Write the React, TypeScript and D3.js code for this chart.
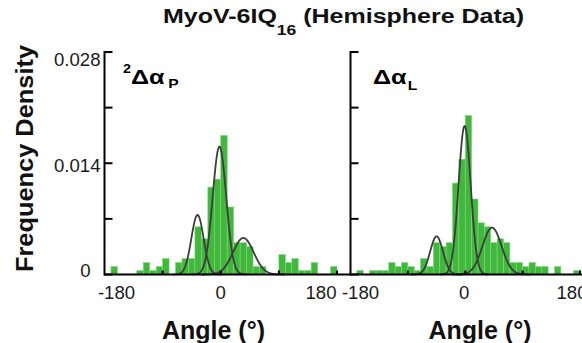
import React from 'react';
import * as d3 from 'd3';

// Histogram bins: left edges (degrees), bin width 10
const binStarts = [
  -180, -170, -160, -150, -140, -130, -120, -110, -100, -90, -80, -70,
  -60, -50, -40, -30, -20, -10, 0, 10, 20, 30, 40, 50,
  60, 70, 80, 90, 100, 110, 120, 130, 140, 150, 160, 170,
];
const binWidth = 10;

// Frequency density, panel 1 (²Δα_P)
const densityP = [
  0, 0.001, 0, 0, 0, 0.0005, 0.0015, 0.0005, 0.001, 0.002, 0, 0.0015,
  0.002, 0.002, 0.006, 0.0045, 0.011, 0.012, 0.0175, 0.0085, 0.004, 0.004, 0.0035, 0.001,
  0.001, 0, 0, 0.0025, 0.0015, 0.002, 0.0005, 0.0005, 0.0015, 0, 0, 0.001,
];
// Frequency density, panel 2 (Δα_L)
const densityL = [
  0, 0.0005, 0, 0.0005, 0.0005, 0.0005, 0.0015, 0.001, 0.0015, 0.001, 0.0005, 0.002,
  0.001, 0.004, 0.0035, 0.004, 0.0115, 0.0145, 0.02, 0.0095, 0.0065, 0.006, 0.004, 0.0045,
  0.004, 0.0015, 0.0015, 0.001, 0.0015, 0.001, 0.001, 0, 0.001, 0, 0, 0.0005,
];

// Gaussian fit components (mean, sd, peak density)
const fitMeansP = [-36, -2, 35];
const fitSdsP = [9.5, 10.5, 16];
const fitPeaksP = [0.0075, 0.0161, 0.0046];
const fitMeansL = [-45, -1, 42];
const fitSdsL = [10, 9.5, 15];
const fitPeaksL = [0.0048, 0.0187, 0.0059];

const xTicks = [-180, -90, 0, 90, 180];
const xTickLabels = [-180, 0, 180];
const yTicks = [0, 0.007, 0.014, 0.021, 0.028];
const yTickLabels = ['0', '0.014', '0.028'];

const FONT = 'Liberation Sans, Arial, Helvetica, sans-serif';
const BAR_FILL = '#3fb83c';
const BAR_STROKE = '#86d47f';
const CURVE = '#3d3d3d';

const yScale = d3.scaleLinear().domain([0, 0.028]).range([274.5, 52]);

function Panel({ xScale, densities, means, sds, peaks, axisEnd, labelOffsets, showYLabels }) {
  const x0 = xScale.range()[0];
  const base = yScale(0);
  const line = d3
    .line<[number, number]>()
    .x((d) => xScale(d[0]))
    .y((d) => yScale(d[1]))
    .curve(d3.curveBasis);
  const curves = means.map((m, i) => {
    const s = sds[i];
    const p = peaks[i];
    const pts: [number, number][] = d3
      .range(Math.max(-180, m - 4 * s), Math.min(180, m + 4 * s) + 0.01, 0.5)
      .map((a) => [a, p * Math.exp(-0.5 * ((a - m) / s) ** 2)]);
    return line(pts);
  });
  return (
    <g>
      {binStarts.map((b, i) =>
        densities[i] > 0 ? (
          <rect
            key={i}
            x={xScale(b)}
            width={xScale(b + binWidth) - xScale(b)}
            y={yScale(densities[i])}
            height={base - yScale(densities[i])}
            fill={BAR_FILL}
            stroke={BAR_STROKE}
            strokeWidth={0.6}
          />
        ) : null
      )}
      {curves.map((d, i) => (
        <path key={i} d={d || ''} fill="none" stroke={CURVE} strokeWidth={1.8} />
      ))}
      {/* y axis */}
      <line x1={x0} x2={x0} y1={yScale(0.028) - 1} y2={base + 1} stroke="#000" strokeWidth={2} />
      {yTicks.map((t) => (
        <line key={t} x1={x0} x2={x0 + 8} y1={yScale(t)} y2={yScale(t)} stroke="#000" strokeWidth={2} />
      ))}
      {/* x axis */}
      <line x1={x0} x2={axisEnd} y1={base} y2={base} stroke="#000" strokeWidth={2} />
      {xTicks.slice(1).map((t) => (
        <line key={t} x1={xScale(t)} x2={xScale(t)} y1={base} y2={base - 4} stroke="#000" strokeWidth={2} />
      ))}
      {xTickLabels.map((t, i) => (
        <text
          key={t}
          x={xScale(t) + labelOffsets[i]}
          y={299}
          fontSize={18.6}
          fontFamily={FONT}
          textAnchor="middle"
          fill="#1a1a1a"
        >
          {t}
        </text>
      ))}
      {showYLabels &&
        yTickLabels.map((t, i) => {
          const v = +t;
          const dy = i === 0 ? 2 : i === 1 ? 8.5 : 14;
          return (
            <text
              key={t}
              x={v === 0 ? x0 - 14 : x0 - 4}
              y={yScale(v) + dy}
              fontSize={18.6}
              fontFamily={FONT}
              textAnchor="end"
              fill="#1a1a1a"
            >
              {t}
            </text>
          );
        })}
    </g>
  );
}

export default function App() {
  const xP = d3.scaleLinear().domain([-180, 180]).range([104.5, 337]);
  const xL = d3.scaleLinear().domain([-180, 180]).range([350.5, 580]);
  return (
    <svg
      width={582}
      height={343}
      style={{ position: 'absolute', left: 0, top: 0, background: '#fff' }}
      fontFamily={FONT}
    >
      <rect width={582} height={343} fill="#fff" />
      <Panel
        xScale={xP}
        densities={densityP}
        means={fitMeansP}
        sds={fitSdsP}
        peaks={fitPeaksP}
        axisEnd={351}
        labelOffsets={[12, 0, -16]}
        showYLabels={true}
      />
      <Panel
        xScale={xL}
        densities={densityL}
        means={fitMeansL}
        sds={fitSdsL}
        peaks={fitPeaksL}
        axisEnd={582}
        labelOffsets={[10, -1, -8]}
        showYLabels={false}
      />
      {/* Title */}
      <g transform="translate(163,23) scale(1.25,1)">
        <text fontSize={20} fontWeight="bold" fill="#111">
          MyoV-6IQ
          <tspan fontSize={14} dy={12}>16</tspan>
          <tspan dy={-12}> (Hemisphere Data)</tspan>
        </text>
      </g>
      {/* Panel labels */}
      <g transform="translate(123,84) scale(1.2,1)">
        <text fontWeight="bold" fill="#000">
          <tspan fontSize={12} y={-11}>2</tspan>
          <tspan fontSize={21} y={0}>Δα</tspan>
          <tspan fontSize={13} y={4} dx={3}>P</tspan>
        </text>
      </g>
      <g transform="translate(373,84) scale(1.2,1)">
        <text fontWeight="bold" fill="#000">
          <tspan fontSize={21} y={0}>Δα</tspan>
          <tspan fontSize={13} y={6} dx={1}>L</tspan>
        </text>
      </g>
      {/* Axis titles */}
      <text
        transform="translate(33,158.5) rotate(-90)"
        textAnchor="middle"
        fontSize={23}
        fontWeight="bold"
        textLength={227}
        lengthAdjust="spacingAndGlyphs"
        fill="#111"
      >
        Frequency Density
      </text>
      <text x={213.5} y={339} textAnchor="middle" fontSize={25} fontWeight="bold" fill="#111">
        Angle (°)
      </text>
      <text x={480} y={339} textAnchor="middle" fontSize={25} fontWeight="bold" fill="#111">
        Angle (°)
      </text>
    </svg>
  );
}
